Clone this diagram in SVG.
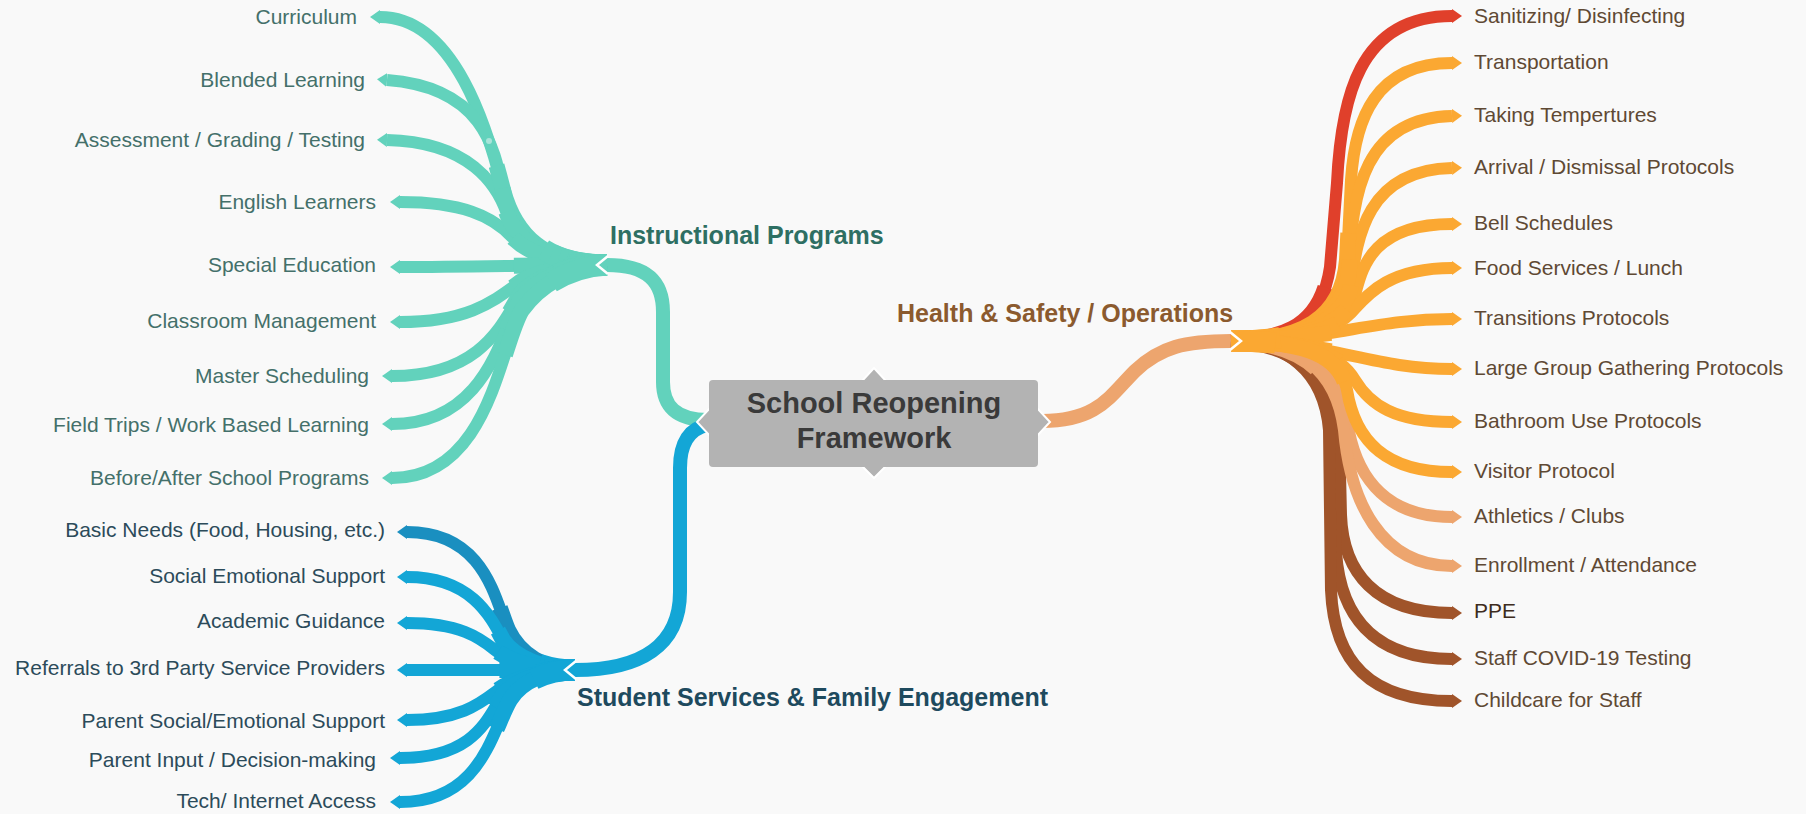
<svg xmlns="http://www.w3.org/2000/svg" xmlns:xlink="http://www.w3.org/1999/xlink" width="1806" height="814" viewBox="0 0 1806 814">
<style>
.lt{font-family:"Liberation Sans",Arial,sans-serif;font-size:21px}
.hd{font-family:"Liberation Sans",Arial,sans-serif;font-size:25px;font-weight:bold}
.tl{fill:#44706a;text-anchor:end}
.bl{fill:#2c4b5a;text-anchor:end}
.rt{fill:#5f4934}
.base{fill:none;stroke-width:12;stroke-linecap:butt;stroke-linejoin:round}
.t1{fill:none;stroke-width:16;stroke-dasharray:45 300;marker-end:none}
.t2{fill:none;stroke-width:21;stroke-dasharray:18 300;marker-end:none}
.ts{fill:none;stroke-width:16;stroke-dasharray:26 300;marker-end:none}
.teal{stroke:#62d2bc}
.blue{stroke:#13a6d6}
.dblue{stroke:#1a8fc0}
.red{stroke:#e0402b}
.org{stroke:#fba832}
.lor{stroke:#eda56e}
.brn{stroke:#a0542a}
.main{fill:none;stroke-width:14;stroke-linecap:butt}
.chev{fill:none;stroke:#ffffff;stroke-width:2.5;stroke-linejoin:miter}
</style>
<defs>
<marker id="mTeal" markerUnits="userSpaceOnUse" markerWidth="10" markerHeight="14" viewBox="0 -7 10 14" refX="0" refY="0" orient="auto"><path d="M0,-7 L10,0 L0,7 z" fill="#62d2bc"/></marker>
<marker id="mBlue" markerUnits="userSpaceOnUse" markerWidth="10" markerHeight="14" viewBox="0 -7 10 14" refX="0" refY="0" orient="auto"><path d="M0,-7 L10,0 L0,7 z" fill="#13a6d6"/></marker>
<marker id="mDBlue" markerUnits="userSpaceOnUse" markerWidth="10" markerHeight="14" viewBox="0 -7 10 14" refX="0" refY="0" orient="auto"><path d="M0,-7 L10,0 L0,7 z" fill="#1a8fc0"/></marker>
<marker id="mRed" markerUnits="userSpaceOnUse" markerWidth="10" markerHeight="14" viewBox="0 -7 10 14" refX="0" refY="0" orient="auto"><path d="M0,-7 L10,0 L0,7 z" fill="#e0402b"/></marker>
<marker id="mOrg" markerUnits="userSpaceOnUse" markerWidth="10" markerHeight="14" viewBox="0 -7 10 14" refX="0" refY="0" orient="auto"><path d="M0,-7 L10,0 L0,7 z" fill="#fba832"/></marker>
<marker id="mLor" markerUnits="userSpaceOnUse" markerWidth="10" markerHeight="16" viewBox="0 -8 10 16" refX="0" refY="0" orient="auto"><path d="M0,-8 L10,0 L0,8 z" fill="#eda56e"/></marker>
<marker id="mLor2" markerUnits="userSpaceOnUse" markerWidth="10" markerHeight="14" viewBox="0 -7 10 14" refX="0" refY="0" orient="auto"><path d="M0,-7 L10,0 L0,7 z" fill="#eda56e"/></marker>
<marker id="mBrn" markerUnits="userSpaceOnUse" markerWidth="10" markerHeight="14" viewBox="0 -7 10 14" refX="0" refY="0" orient="auto"><path d="M0,-7 L10,0 L0,7 z" fill="#a0542a"/></marker>
<marker id="mTealM" markerUnits="userSpaceOnUse" markerWidth="10" markerHeight="16" viewBox="0 -8 10 16" refX="0" refY="0" orient="auto"><path d="M0,-8 L10,0 L0,8 z" fill="#62d2bc"/></marker>
<marker id="mBlueM" markerUnits="userSpaceOnUse" markerWidth="10" markerHeight="16" viewBox="0 -8 10 16" refX="0" refY="0" orient="auto"><path d="M0,-8 L10,0 L0,8 z" fill="#13a6d6"/></marker>
</defs>
<rect x="0" y="0" width="1806" height="814" fill="#f9f9f9"/>

<g id="connectors">
  <!-- main branches -->
  <path class="main teal" marker-end="url(#mTealM)" d="M708,420 C676,420 663,406 663,382 L663,312 C663,282 648,265 607,265"/>
  <path class="main blue" marker-end="url(#mBlueM)" d="M708,425 C690,428 680,442 680,468 L680,592 C680,646 640,670 575,670"/>
  <path class="main lor" marker-end="url(#mLor)" d="M1042,421 C1098,421 1110,396 1135,371 C1160,347 1185,341 1231,341"/>

  <!-- teal leaves -->
  <g class="base teal" marker-end="url(#mTeal)">
    <path id="tl1" pathLength="100" d="M607,265 C545,265 515,235 503,190 C488,130 455,17 380,17"/>
    <path id="tl2" pathLength="100" d="M607,265 C548,265 517,238 505,200 C496,160 492,88 387,80"/>
    <path id="tl3" pathLength="100" d="M607,265 C550,265 518,242 507,214 C497,185 470,142 387,140"/>
    <path id="tl4" pathLength="100" d="M607,265 C560,265 530,255 512,237 C492,216 462,202 400,202"/>
    <path id="tl5" pathLength="100" d="M607,265 C540,265 470,267 400,267"/>
    <path id="tl6" pathLength="100" d="M607,265 C560,266 535,272 520,282 C495,300 470,322 400,322"/>
    <path id="tl7" pathLength="100" d="M607,265 C565,266 535,278 522,292 C505,315 488,376 392,376"/>
    <path id="tl8" pathLength="100" d="M607,265 C565,266 535,280 520,300 C502,325 490,424 392,424"/>
    <path id="tl9" pathLength="100" d="M607,265 C570,267 540,285 522,310 C500,345 490,478 392,478"/>
  </g>
  <g class="t1 teal">
    <use href="#tl1"/><use href="#tl2"/><use href="#tl3"/><use href="#tl4"/><use href="#tl5"/><use href="#tl6"/><use href="#tl7"/><use href="#tl8"/><use href="#tl9"/>
  </g>
  <g class="t2 teal">
    <use href="#tl1"/><use href="#tl2"/><use href="#tl3"/><use href="#tl4"/><use href="#tl5"/><use href="#tl6"/><use href="#tl7"/><use href="#tl8"/><use href="#tl9"/>
  </g>
  <circle cx="489" cy="141" r="3" fill="#a9e4d9"/>

  <!-- blue leaves -->
  <g class="base dblue" marker-end="url(#mDBlue)">
    <path id="bl1" pathLength="100" d="M575,670 C545,670 520,655 508,630 C495,600 485,532 407,532"/>
  </g>
  <g class="t1 dblue"><use href="#bl1"/></g>
  <g class="base blue" marker-end="url(#mBlue)">
    <path id="bl2" pathLength="100" d="M575,670 C545,670 515,658 503,640 C490,615 470,577 407,577"/>
    <path id="bl3" pathLength="100" d="M575,670 C540,670 510,662 495,650 C480,638 460,623 407,623"/>
    <path id="bl4" pathLength="100" d="M575,670 C520,670 460,670 407,670"/>
    <path id="bl5" pathLength="100" d="M575,670 C540,670 512,680 498,690 C482,702 462,720 407,720"/>
    <path id="bl6" pathLength="100" d="M575,670 C545,670 515,680 503,695 C488,715 478,758 400,758"/>
    <path id="bl7" pathLength="100" d="M575,670 C550,670 522,680 510,700 C492,730 482,802 400,802"/>
  </g>
  <g class="t1 blue">
    <use href="#bl2"/><use href="#bl3"/><use href="#bl4"/><use href="#bl5"/><use href="#bl6"/><use href="#bl7"/>
  </g>
  <g class="t2 blue">
    <use href="#bl2"/><use href="#bl3"/><use href="#bl4"/><use href="#bl5"/><use href="#bl6"/><use href="#bl7"/>
  </g>

  <!-- right leaves -->
  <g class="base red" marker-end="url(#mRed)">
    <path id="rl1" pathLength="100" d="M1231,341 C1290,340 1322,322 1330,267 L1337,183 C1341,100 1358,16 1452,16"/>
  </g>
  <g class="ts red"><use href="#rl1"/></g>
  <g class="base brn" marker-end="url(#mBrn)">
    <path id="rl13" pathLength="100" d="M1231,341 C1295,342 1334,370 1339,430 L1341,515 C1343,572 1375,613 1452,613"/>
    <path id="rl14" pathLength="100" d="M1231,341 C1290,342 1329,370 1334,430 L1336,552 C1340,612 1370,659 1452,659"/>
    <path id="rl15" pathLength="100" d="M1231,341 C1285,342 1324,370 1329,430 L1331,590 C1334,662 1370,701 1452,701"/>
  </g>
  <g class="ts brn"><use href="#rl14"/></g>
  <g class="base lor" marker-end="url(#mLor2)">
    <path id="rl11" pathLength="100" d="M1231,341 C1300,342 1338,365 1347,420 C1354,470 1380,517 1452,517"/>
    <path id="rl12" pathLength="100" d="M1231,341 C1300,342 1336,370 1344,430 C1350,500 1380,566 1452,566"/>
  </g>
  <g class="ts lor"><use href="#rl11"/><use href="#rl12"/></g>
  <g class="base org" marker-end="url(#mOrg)">
    <path id="rl2" pathLength="100" d="M1231,341 C1300,341 1342,320 1347,260 L1351,180 C1355,120 1375,63 1452,63"/>
    <path id="rl3" pathLength="100" d="M1231,341 C1300,341 1345,320 1349,270 C1352,190 1365,118 1452,116"/>
    <path id="rl4" pathLength="100" d="M1231,341 C1300,341 1345,320 1351,285 C1357,240 1365,170 1452,168"/>
    <path id="rl5" pathLength="100" d="M1231,341 C1300,341 1345,325 1355,295 C1362,270 1370,224 1452,224"/>
    <path id="rl6" pathLength="100" d="M1231,341 C1300,341 1335,330 1351,313 C1365,298 1385,268 1452,268"/>
    <path id="rl7" pathLength="100" d="M1231,341 C1330,341 1370,319 1452,319"/>
    <path id="rl8" pathLength="100" d="M1231,341 C1330,341 1370,369 1452,369"/>
    <path id="rl9" pathLength="100" d="M1231,341 C1310,341 1340,355 1355,380 C1370,405 1395,422 1452,422"/>
    <path id="rl10" pathLength="100" d="M1231,341 C1305,341 1340,355 1347,390 C1355,440 1385,472 1452,472"/>
  </g>
  <g class="t1 org">
    <use href="#rl2"/><use href="#rl3"/><use href="#rl4"/><use href="#rl5"/><use href="#rl6"/><use href="#rl7"/><use href="#rl8"/><use href="#rl9"/><use href="#rl10"/>
  </g>
  <g class="t2 org">
    <use href="#rl5"/><use href="#rl6"/><use href="#rl7"/><use href="#rl8"/><use href="#rl9"/>
  </g>

  <!-- junction chevrons -->
  <polyline class="chev" points="608,256 597,265 608,274"/>
  <polyline class="chev" points="576,661 565,670 576,679"/>
  <polyline class="chev" points="1230,332 1241,341 1230,350"/>
</g>

<g id="node-center">
  <g fill="#b3b3b3" stroke="#ffffff" stroke-width="2">
    <polygon points="862,381 874,368 886,381"/>
    <polygon points="862,466 874,478 886,466"/>
    <polygon points="710,408 697,422 710,436"/>
    <polygon points="1037,408 1050,422 1037,436"/>
  </g>
  <rect x="709" y="380" width="329" height="87" rx="4" fill="#b3b3b3"/>
  <text x="874" y="413" text-anchor="middle" font-family="Liberation Sans, Arial, sans-serif" font-size="29" font-weight="bold" fill="#3a3a3a">School Reopening</text>
  <text x="874" y="448" text-anchor="middle" font-family="Liberation Sans, Arial, sans-serif" font-size="29" font-weight="bold" fill="#3a3a3a">Framework</text>
</g>

<g id="node-instructional"><text class="hd" x="610" y="244" fill="#2e6f63">Instructional Programs</text></g>
<g id="node-student"><text class="hd" x="577" y="706" fill="#1e4a5e">Student Services &amp; Family Engagement</text></g>
<g id="node-health"><text class="hd" x="897" y="322" fill="#8b5a2e">Health &amp; Safety / Operations</text></g>

<g id="node-curriculum"><text class="lt tl" x="357" y="24">Curriculum</text></g>
<g id="node-blended"><text class="lt tl" x="365" y="87">Blended Learning</text></g>
<g id="node-assessment"><text class="lt tl" x="365" y="147">Assessment / Grading / Testing</text></g>
<g id="node-english"><text class="lt tl" x="376" y="209">English Learners</text></g>
<g id="node-special"><text class="lt tl" x="376" y="272">Special Education</text></g>
<g id="node-classroom"><text class="lt tl" x="376" y="328">Classroom Management</text></g>
<g id="node-master"><text class="lt tl" x="369" y="383">Master Scheduling</text></g>
<g id="node-field"><text class="lt tl" x="369" y="432">Field Trips / Work Based Learning</text></g>
<g id="node-before"><text class="lt tl" x="369" y="485">Before/After School Programs</text></g>

<g id="node-basic"><text class="lt bl" x="385" y="537">Basic Needs (Food, Housing, etc.)</text></g>
<g id="node-social"><text class="lt bl" x="385" y="583">Social Emotional Support</text></g>
<g id="node-academic"><text class="lt bl" x="385" y="628">Academic Guidance</text></g>
<g id="node-referrals"><text class="lt bl" x="385" y="675">Referrals to 3rd Party Service Providers</text></g>
<g id="node-parentsocial"><text class="lt bl" x="385" y="728">Parent Social/Emotional Support</text></g>
<g id="node-parentinput"><text class="lt bl" x="376" y="767">Parent Input / Decision-making</text></g>
<g id="node-tech"><text class="lt bl" x="376" y="808">Tech/ Internet Access</text></g>

<g id="node-sanitizing"><text class="lt rt" x="1474" y="23" fill="#4e3a2c">Sanitizing/ Disinfecting</text></g>
<g id="node-transportation"><text class="lt rt" x="1474" y="69">Transportation</text></g>
<g id="node-taking"><text class="lt rt" x="1474" y="122">Taking Tempertures</text></g>
<g id="node-arrival"><text class="lt rt" x="1474" y="174">Arrival / Dismissal Protocols</text></g>
<g id="node-bell"><text class="lt rt" x="1474" y="230">Bell Schedules</text></g>
<g id="node-food"><text class="lt rt" x="1474" y="275">Food Services / Lunch</text></g>
<g id="node-transitions"><text class="lt rt" x="1474" y="325">Transitions Protocols</text></g>
<g id="node-large"><text class="lt rt" x="1474" y="375">Large Group Gathering Protocols</text></g>
<g id="node-bathroom"><text class="lt rt" x="1474" y="428">Bathroom Use Protocols</text></g>
<g id="node-visitor"><text class="lt rt" x="1474" y="478">Visitor Protocol</text></g>
<g id="node-athletics"><text class="lt rt" x="1474" y="523">Athletics / Clubs</text></g>
<g id="node-enrollment"><text class="lt rt" x="1474" y="572">Enrollment / Attendance</text></g>
<g id="node-ppe"><text class="lt rt" x="1474" y="618" style="fill:#3e2c20">PPE</text></g>
<g id="node-staff"><text class="lt rt" x="1474" y="665">Staff COVID-19 Testing</text></g>
<g id="node-childcare"><text class="lt rt" x="1474" y="707">Childcare for Staff</text></g>
</svg>
